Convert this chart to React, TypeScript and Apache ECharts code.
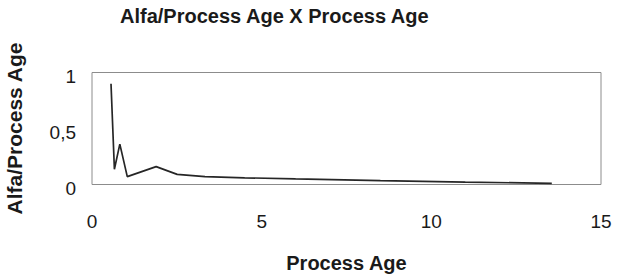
import React, { useEffect, useRef } from "react";
import * as echarts from "echarts";

const processAge = [0.56, 0.66, 0.82, 1.04, 1.89, 2.51, 3.33, 4.5, 6, 8.5, 11, 13.55];
const alfaRatio = [0.9, 0.136, 0.36, 0.07, 0.16, 0.09, 0.07, 0.06, 0.05, 0.035, 0.022, 0.01];
const titleText = "Alfa/Process Age X Process Age";
const xName = "Process Age";
const yName = "Alfa/Process Age";

const FONT = "'Liberation Sans', Arial, Helvetica, sans-serif";

export default function App() {
  const ref = useRef<HTMLDivElement>(null);
  useEffect(() => {
    if (!ref.current) return;
    const chart = echarts.init(ref.current, null, { renderer: "svg" });
    chart.setOption({
      animation: false,
      backgroundColor: "#ffffff",
      title: {
        text: titleText,
        left: 115,
        top: 1,
        textStyle: { fontFamily: FONT, fontSize: 20, fontWeight: "bold", color: "#1a1a1a" },
      },
      grid: {
        left: 92,
        right: 21,
        top: 72.5,
        bottom: 92.5,
        show: true,
        borderColor: "#8c8c8c",
        borderWidth: 1,
        containLabel: false,
        outerBoundsMode: "none",
      },
      xAxis: {
        type: "value",
        min: 0,
        max: 15,
        interval: 5,
        name: xName,
        nameLocation: "middle",
        nameGap: 68,
        nameTextStyle: { fontFamily: FONT, fontSize: 20, fontWeight: "bold", color: "#1a1a1a" },
        axisLine: { show: false },
        axisTick: { show: false },
        splitLine: { show: false },
        axisLabel: { fontFamily: FONT, fontSize: 19, color: "#1a1a1a", margin: 27 },
      },
      yAxis: {
        type: "value",
        min: 0,
        max: 1,
        interval: 0.5,
        name: yName,
        nameLocation: "middle",
        nameGap: 67,
        nameTextStyle: { fontFamily: FONT, fontSize: 21, fontWeight: "bold", color: "#1a1a1a" },
        axisLine: { show: false },
        axisTick: { show: false },
        splitLine: { show: false },
        axisLabel: {
          fontFamily: FONT,
          fontSize: 19,
          color: "#1a1a1a",
          margin: 16,
          verticalAlign: "top",
          lineHeight: 8,
          formatter: (v: number) => String(v).replace(".", ","),
        },
      },
      series: [
        {
          type: "line",
          data: processAge.map((x, i) => [x, alfaRatio[i]]),
          showSymbol: false,
          symbol: "none",
          lineStyle: { color: "#262626", width: 1.7 },
        },
      ],
    });
    return () => chart.dispose();
  }, []);
  return <div ref={ref} style={{ position: "fixed", left: 0, top: 0, width: 622, height: 277 }} />;
}
